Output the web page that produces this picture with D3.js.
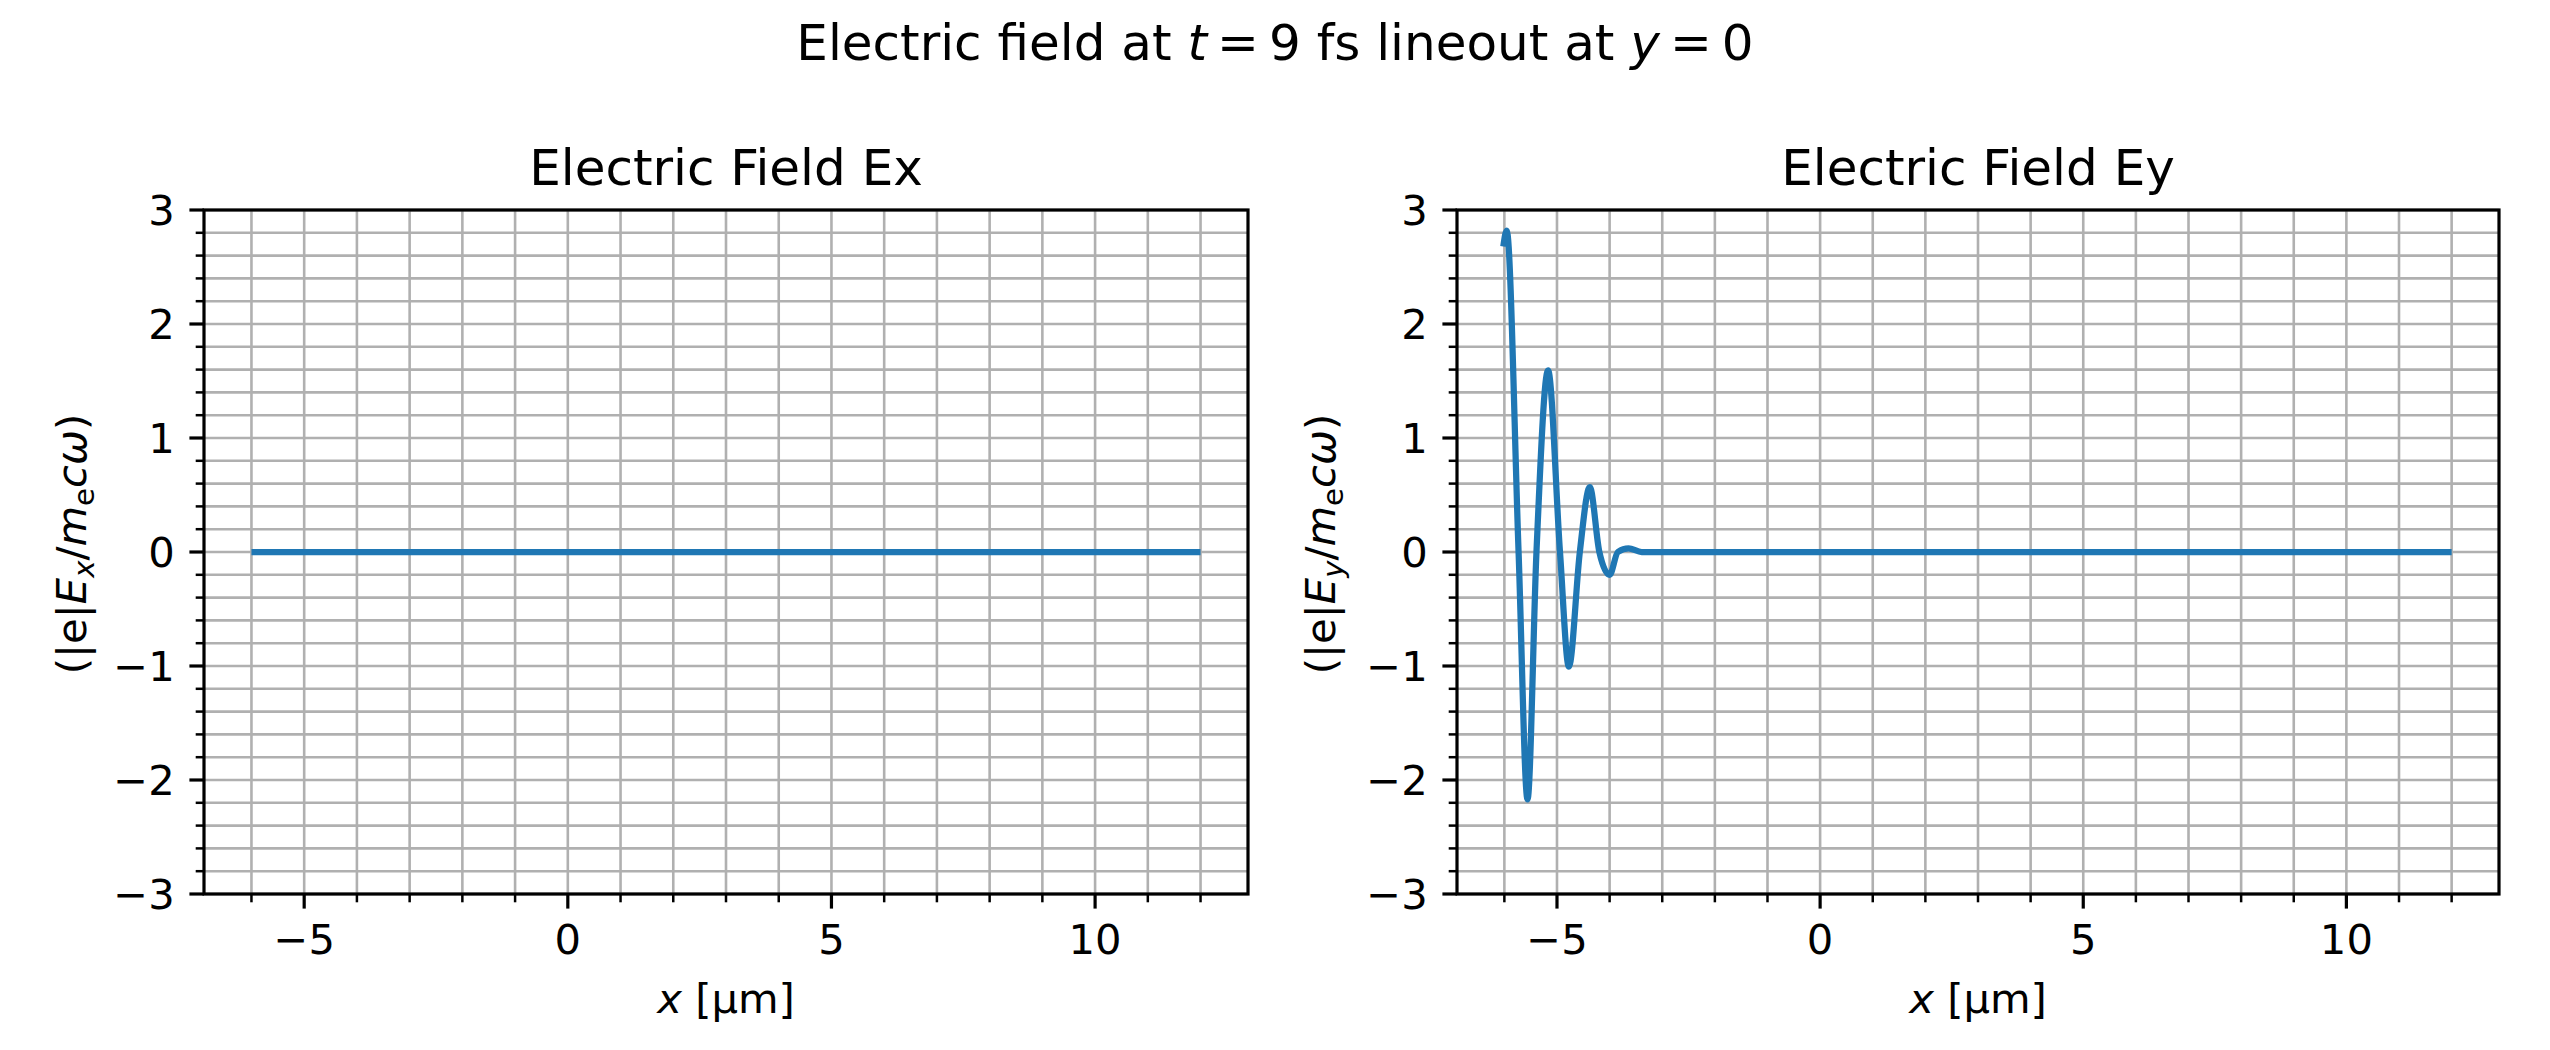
<!DOCTYPE html>
<html>
<head>
<meta charset="utf-8">
<script src="https://cdn.jsdelivr.net/npm/d3@7"></script>
<style>
  html, body { margin: 0; padding: 0; background: #fff; }
  svg { display: block; font-family: "DejaVu Sans", sans-serif; }
</style>
</head>
<body>
<svg id="chart" width="2550" height="1050"></svg>
<script>
// ---- data ----
const exX = [-6.0, 12.0];
const exY = [0.0, 0.0];

const eyX = [-6.02, -5.956, -5.73, -5.56, -5.39, -5.17, -4.943, -4.774, -4.566, -4.377,
             -4.195, -4.0, -3.843, -3.64, -3.39, 12.0];
const eyY = [2.68, 2.82, 0.0, -2.17, 0.0, 1.593, 0.0, -1.005, 0.0, 0.569,
             0.0, -0.2, 0.0, 0.032, 0.0, 0.0];

const xMajorTicks = [-5, 0, 5, 10];
const xMinorTicks = [-6, -4, -3, -2, -1, 1, 2, 3, 4, 6, 7, 8, 9, 11, 12];
const yMajorTicks = [-3, -2, -1, 0, 1, 2, 3];
const yMinorTicks = d3.range(-30, 31, 2).map(v => v / 10).filter(v => !Number.isInteger(v));

const xDomain = [-6.9, 12.9];
const yDomain = [-3, 3];

const panels = [
  { title: "Electric Field Ex", sub: "x", xs: exX, ys: exY, left: 204, right: 1248, ylabX: 72 },
  { title: "Electric Field Ey", sub: "y", xs: eyX, ys: eyY, left: 1457, right: 2499, ylabX: 1321 }
];

// ---- layout ----
const plotTop = 210, plotBottom = 894;
const fs = 41.7, titleFs = 50;
const majLen = 14.6, minLen = 8.3;
const svg = d3.select("#chart");
const gridColor = "#b0b0b0";

// suptitle
const sup = svg.append("text").attr("x", 1275).attr("y", 60).attr("text-anchor", "middle")
  .attr("font-size", titleFs).attr("fill", "#000");
sup.append("tspan").text("Electric field at ");
sup.append("tspan").attr("font-style", "italic").text("t");
sup.append("tspan").attr("dx", 10).text("=");
sup.append("tspan").attr("dx", 10).text("9");
sup.append("tspan").text(" fs lineout at ");
sup.append("tspan").attr("font-style", "italic").text("y");
sup.append("tspan").attr("dx", 10).text("=");
sup.append("tspan").attr("dx", 10).text("0");

panels.forEach(p => {
  const x = d3.scaleLinear().domain(xDomain).range([p.left, p.right]);
  const y = d3.scaleLinear().domain(yDomain).range([plotBottom, plotTop]);
  const g = svg.append("g");

  // grid
  const allX = xMajorTicks.concat(xMinorTicks);
  const allY = yMajorTicks.concat(yMinorTicks);
  g.append("g").selectAll("line").data(allX).join("line")
    .attr("x1", d => x(d)).attr("x2", d => x(d)).attr("y1", plotTop).attr("y2", plotBottom)
    .attr("stroke", gridColor).attr("stroke-width", 2.6);
  g.append("g").selectAll("line").data(allY).join("line")
    .attr("x1", p.left).attr("x2", p.right).attr("y1", d => y(d)).attr("y2", d => y(d))
    .attr("stroke", gridColor).attr("stroke-width", 2.6);

  // clip
  const cid = "clip-" + p.sub;
  svg.append("clipPath").attr("id", cid).append("rect")
    .attr("x", p.left).attr("y", plotTop).attr("width", p.right - p.left).attr("height", plotBottom - plotTop);

  // line
  const pts = p.xs.map((v, i) => [v, p.ys[i]]);
  const line = d3.line().x(d => x(d[0])).y(d => y(d[1])).curve(d3.curveMonotoneX);
  g.append("path").datum(pts).attr("d", line).attr("fill", "none")
    .attr("stroke", "#1f77b4").attr("stroke-width", 6.25)
    .attr("stroke-linejoin", "round").attr("stroke-linecap", "butt")
    .attr("clip-path", `url(#${cid})`);

  // spines
  g.append("rect").attr("x", p.left).attr("y", plotTop).attr("width", p.right - p.left).attr("height", plotBottom - plotTop)
    .attr("fill", "none").attr("stroke", "#000").attr("stroke-width", 3.2);

  // x ticks
  g.append("g").selectAll("line").data(xMajorTicks).join("line")
    .attr("x1", d => x(d)).attr("x2", d => x(d)).attr("y1", plotBottom).attr("y2", plotBottom + majLen)
    .attr("stroke", "#000").attr("stroke-width", 3.2);
  g.append("g").selectAll("line").data(xMinorTicks).join("line")
    .attr("x1", d => x(d)).attr("x2", d => x(d)).attr("y1", plotBottom).attr("y2", plotBottom + minLen)
    .attr("stroke", "#000").attr("stroke-width", 2.5);
  g.append("g").selectAll("text").data(xMajorTicks).join("text")
    .attr("x", d => x(d)).attr("y", plotBottom + 2 * majLen + 30.4)
    .attr("text-anchor", "middle").attr("font-size", fs).attr("fill", "#000")
    .text(d => d3.format("d")(d));

  // y ticks
  g.append("g").selectAll("line").data(yMajorTicks).join("line")
    .attr("x1", p.left - majLen).attr("x2", p.left).attr("y1", d => y(d)).attr("y2", d => y(d))
    .attr("stroke", "#000").attr("stroke-width", 3.2);
  g.append("g").selectAll("line").data(yMinorTicks).join("line")
    .attr("x1", p.left - minLen).attr("x2", p.left).attr("y1", d => y(d)).attr("y2", d => y(d))
    .attr("stroke", "#000").attr("stroke-width", 2.5);
  g.append("g").selectAll("text").data(yMajorTicks).join("text")
    .attr("x", p.left - 2 * majLen).attr("y", d => y(d)).attr("dy", "0.36em")
    .attr("text-anchor", "end").attr("font-size", fs).attr("fill", "#000")
    .text(d => d3.format("d")(d));

  // title
  svg.append("text").attr("x", (p.left + p.right) / 2).attr("y", 185).attr("text-anchor", "middle")
    .attr("font-size", titleFs).attr("fill", "#000").text(p.title);

  // x label
  const xl = svg.append("text").attr("x", (p.left + p.right) / 2).attr("y", 1013).attr("text-anchor", "middle")
    .attr("font-size", fs).attr("fill", "#000");
  xl.append("tspan").attr("font-style", "italic").text("x");
  xl.append("tspan").text(" [µm]");

  // y label
  const cy = (plotTop + plotBottom) / 2 - 8;
  const yl = svg.append("text").attr("transform", `translate(${p.ylabX + 14},${cy}) rotate(-90)`)
    .attr("text-anchor", "middle").attr("font-size", fs).attr("fill", "#000");
  yl.append("tspan").text("(|e|");
  yl.append("tspan").attr("font-style", "italic").text("E");
  yl.append("tspan").attr("font-style", "italic").attr("font-size", fs * 0.7).attr("dy", fs * 0.2).text(p.sub);
  yl.append("tspan").attr("dy", -fs * 0.2).text("/");
  yl.append("tspan").attr("font-style", "italic").text("m");
  yl.append("tspan").attr("font-size", fs * 0.7).attr("dy", fs * 0.2).text("e");
  yl.append("tspan").attr("font-style", "italic").attr("dy", -fs * 0.2).text("cω");
  yl.append("tspan").text(")");
});
</script>
</body>
</html>
